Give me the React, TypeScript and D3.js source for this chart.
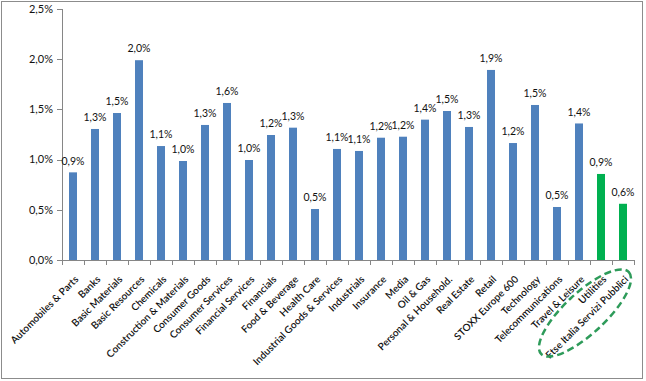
import React from "react";
import * as d3 from "d3";

const categories: string[] = [
  "Automobiles & Parts",
  "Banks",
  "Basic Materials",
  "Basic Resources",
  "Chemicals",
  "Construction & Materials",
  "Consumer Goods",
  "Consumer Services",
  "Financial Services",
  "Financials",
  "Food & Beverage",
  "Health Care",
  "Industrial Goods & Services",
  "Industrials",
  "Insurance",
  "Media",
  "Oil & Gas",
  "Personal & Household.",
  "Real Estate",
  "Retail",
  "STOXX Europe 600",
  "Technology",
  "Telecommunications",
  "Travel & Leisure",
  "Utilities",
  "Ftse Italia Servizi Pubblici",
];

const values: number[] = [
  0.873, 1.305, 1.464, 1.99, 1.135, 0.986, 1.345, 1.564, 0.996, 1.245, 1.318,
  0.508, 1.106, 1.086, 1.218, 1.228, 1.398, 1.484, 1.325, 1.893, 1.165, 1.544,
  0.528, 1.36, 0.857, 0.56,
];

const highlighted: string[] = ["Utilities", "Ftse Italia Servizi Pubblici"];

const yTicks: number[] = [0, 0.5, 1.0, 1.5, 2.0, 2.5];

const W = 646;
const H = 381;
const left = 62;
const right = 634;
const top = 9;
const bottom = 260;

const fmt = (v: number) => v.toFixed(1).replace(".", ",") + "%";

export default function App() {
  const x = d3.scaleBand<string>().domain(categories).range([left, right]).padding(0);
  const y = d3.scaleLinear().domain([0, 2.5]).range([bottom, top]);
  const bw = 8;
  const font = "Lato, 'Open Sans', sans-serif";

  const ell = { cx: 585, cy: 313, rx: 60, ry: 20.5, angle: -43 };

  return (
    <svg
      width={W}
      height={H}
      style={{ position: "absolute", left: 0, top: 0, display: "block", background: "#fff" }}
      fontFamily={font}
    >
      <rect x={1.5} y={1.5} width={641} height={377} fill="#fff" stroke="#8c8c8c" strokeWidth={1} />
      {/* y axis */}
      <line x1={left + 0.5} x2={left + 0.5} y1={top} y2={bottom} stroke="#868686" />
      {yTicks.map((t) => (
        <g key={t}>
          <line x1={left - 5} x2={left} y1={Math.round(y(t)) + 0.5} y2={Math.round(y(t)) + 0.5} stroke="#868686" />
          <text x={left - 9} y={y(t)} dy="0.35em" textAnchor="end" fontSize={11} fill="#111">
            {fmt(t)}
          </text>
        </g>
      ))}
      {/* bars */}
      {categories.map((c, i) => {
        const cx = (x(c) as number) + x.bandwidth() / 2;
        const v = values[i];
        return (
          <g key={c}>
            <rect
              x={cx - bw / 2}
              y={y(v)}
              width={bw}
              height={bottom - y(v)}
              fill={highlighted.includes(c) ? "#00B050" : "#4F81BD"}
            />
            <text x={cx} y={y(v) - 11.5} dy="0.35em" textAnchor="middle" fontSize={10.5} fill="#111">
              {fmt(v)}
            </text>
          </g>
        );
      })}
      {/* x axis */}
      <line x1={left} x2={right} y1={bottom + 0.5} y2={bottom + 0.5} stroke="#868686" />
      {categories.map((c) => (
        <line
          key={"t" + c}
          x1={Math.round(x(c) as number) + 0.5}
          x2={Math.round(x(c) as number) + 0.5}
          y1={bottom}
          y2={bottom + 5}
          stroke="#868686"
        />
      ))}
      <line x1={right + 0.5} x2={right + 0.5} y1={bottom} y2={bottom + 5} stroke="#868686" />
      {categories.map((c) => {
        const cx = (x(c) as number) + x.bandwidth() / 2;
        return (
          <text
            key={"l" + c}
            transform={`translate(${cx + 6},${bottom + 20}) rotate(-45)`}
            textAnchor="end"
            fontSize={10}
            fontWeight={600}
            fill="#111"
          >
            {c}
          </text>
        );
      })}
      <ellipse
        cx={ell.cx}
        cy={ell.cy}
        rx={ell.rx}
        ry={ell.ry}
        transform={`rotate(${ell.angle},${ell.cx},${ell.cy})`}
        fill="none"
        stroke="#2E9B5A"
        strokeWidth={2.5}
        strokeDasharray="7,4"
      />
    </svg>
  );
}
